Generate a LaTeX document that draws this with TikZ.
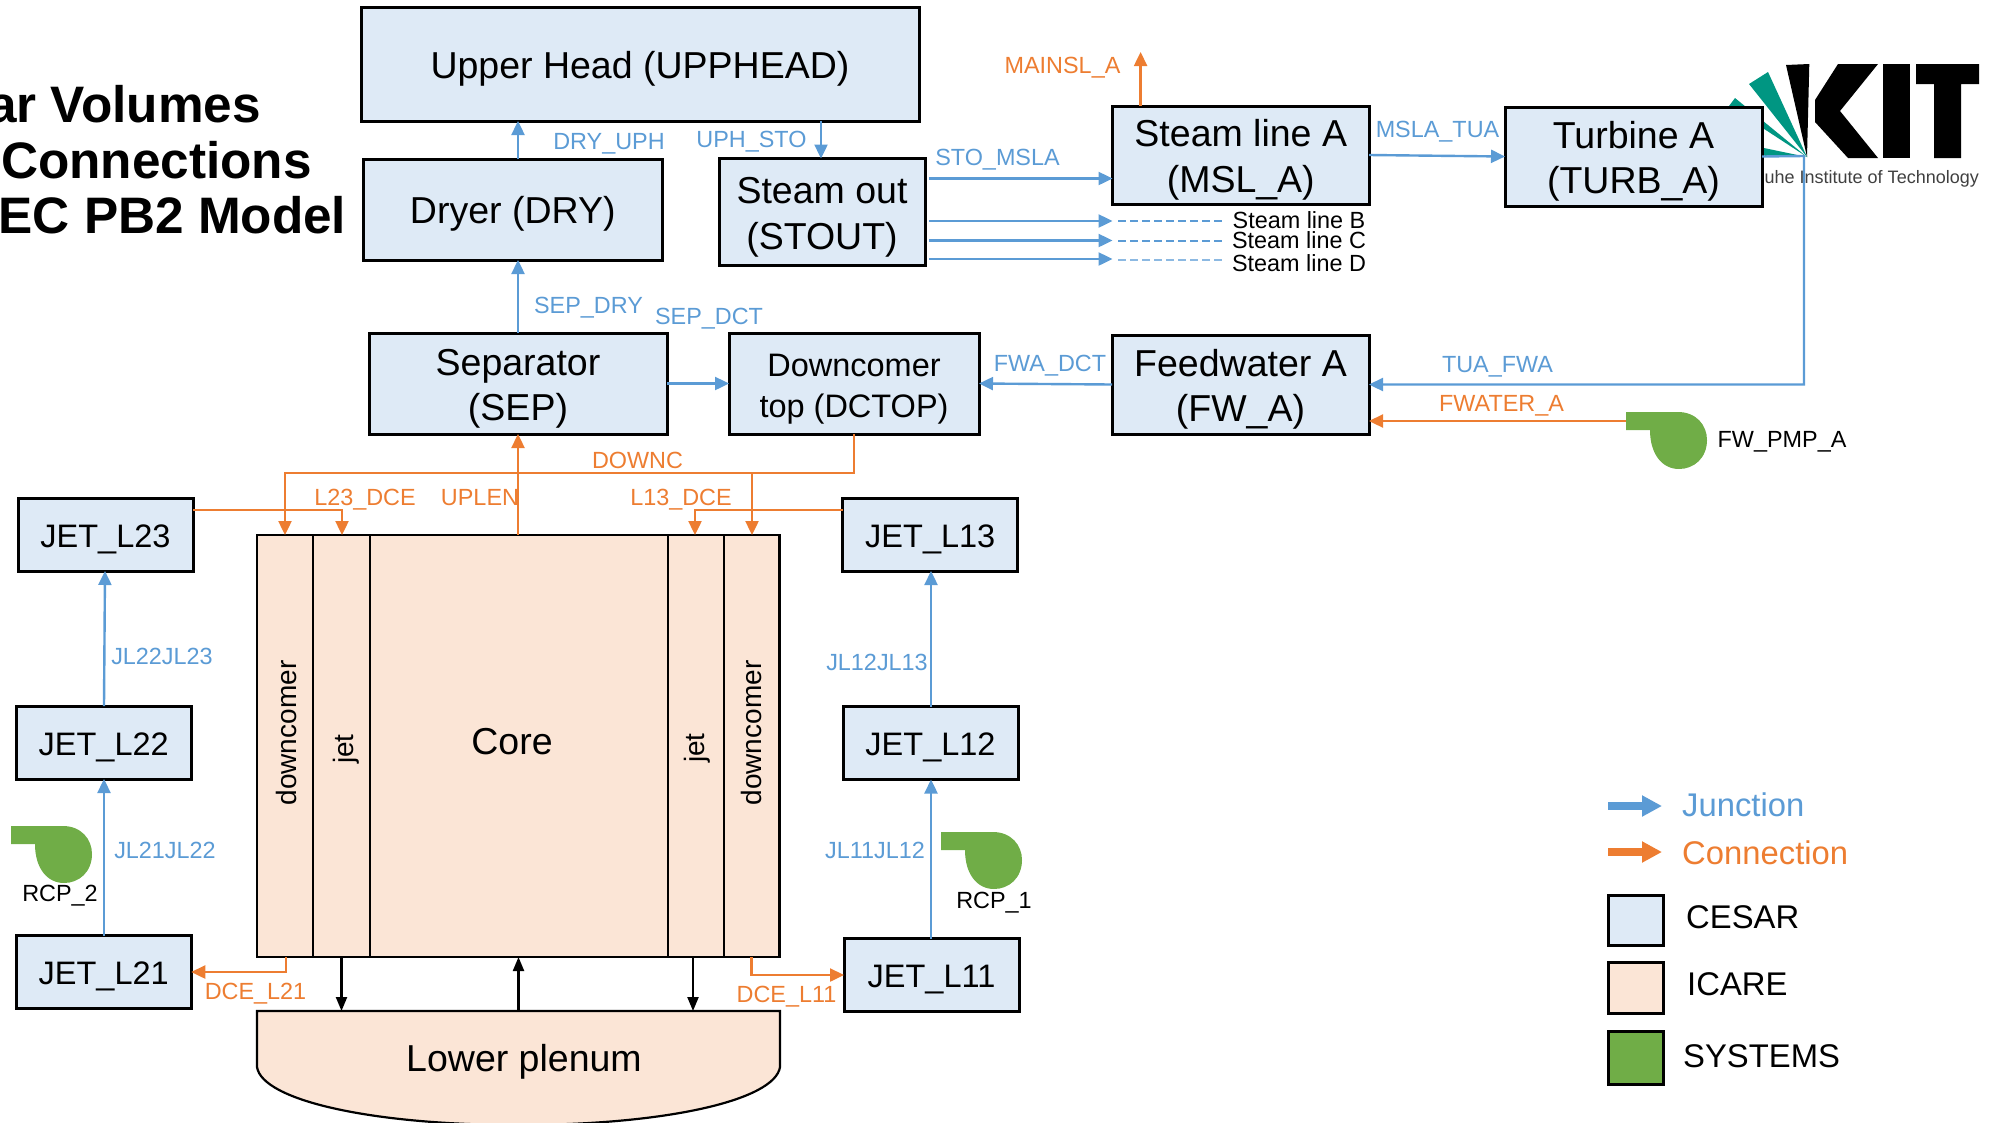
\documentclass[tikz,border=0pt]{standalone}
\usepackage{fontspec}
\setmainfont{Liberation Sans}
\usetikzlibrary{arrows.meta}
\definecolor{cesar}{HTML}{DEEAF6}
\definecolor{icare}{HTML}{FBE5D6}
\definecolor{sysg}{HTML}{70AD47}
\definecolor{jblue}{HTML}{5B9BD5}
\definecolor{corg}{HTML}{ED7D31}
\definecolor{kitg}{HTML}{009682}
\newcommand{\pumpshape}[2]{\fill[sysg,shift={(#1,#2)}] (0,0) -- (52,0) .. controls (70,0) and (81,13) .. (81,28) .. controls (81,46) and (68,57) .. (53,57) .. controls (36,57) and (24,42) .. (24,18) -- (0,18) -- cycle;}
\newcommand{\toprule}[1]{\rule{0pt}{#1pt}}
\tikzset{
  x=1pt,y=-1pt,
  cesarbox/.style={draw=black,line width=3pt,fill=cesar,inner sep=0pt,outer sep=0pt,align=center,font=\fontsize{37.5}{45.5}\selectfont,execute at begin node={\rule{0pt}{36pt}}},
  jetbox/.style={draw=black,line width=3pt,fill=cesar,inner sep=0pt,outer sep=0pt,align=center,minimum width=175pt,minimum height=73pt,font=\fontsize{32.5}{39}\selectfont,execute at begin node={\rule{0pt}{32pt}}},
  dcbox/.style={draw=black,line width=3pt,fill=cesar,inner sep=0pt,outer sep=0pt,align=center,font=\fontsize{32.5}{41}\selectfont},
  icarebox/.style={draw=black,line width=2.2pt,fill=icare,inner sep=0pt,outer sep=0pt},
  lab/.style={inner sep=0pt,font=\fontsize{23.4}{26}\selectfont,text height=16.5pt,text depth=0pt},
  blab/.style={lab,text=jblue},
  olab/.style={lab,text=corg},
  klab/.style={lab,text=black},
  jn/.style={draw=jblue,line width=2.4pt,-{Triangle[length=14pt,width=13pt]}},
  cn/.style={draw=corg,line width=2.4pt,-{Triangle[length=14pt,width=13pt]}},
  bk/.style={draw=black,line width=2.2pt,-{Triangle[length=14pt,width=11pt]}},
  side/.style={inner sep=0pt,font=\fontsize{28}{30}\selectfont,rotate=90},
  big/.style={inner sep=0pt,font=\fontsize{37.5}{44}\selectfont},
  leg/.style={inner sep=0pt,anchor=west,font=\fontsize{32.8}{36}\selectfont,text height=23pt,text depth=0pt},
  legsq/.style={draw=black,line width=3pt,inner sep=0pt,outer sep=0pt,minimum width=55pt},
  ttl/.style={inner sep=0pt,anchor=east,font=\fontsize{51.3}{56}\bfseries\selectfont,text height=37pt,text depth=0pt},
}
\begin{document}
\begin{tikzpicture}
\useasboundingbox (0,0) rectangle (2002,1122);
% title
\node[ttl] (t1) at (261,104) {ar Volumes};
\node[ttl] (t2) at (312,160) {Connections};
\node[ttl] (t3) at (346.5,215) {EC PB2 Model};
% logo
\fill[kitg] (1749,84) -- (1768,72) -- (1807,157) -- cycle;
\fill[kitg] (1729,106) -- (1735,98) -- (1807,157) -- cycle;
\fill[kitg] (1740,143) -- (1740,155) -- (1807,157) -- cycle;
\fill[black] (1786,65) -- (1809.3,64) -- (1807,157) -- cycle;
\fill[black] (1815,100) -- (1838,64) -- (1878,64) -- (1840,111) -- (1878,158) -- (1848,158) -- (1815,122) -- cycle;
\fill[black] (1883,64) rectangle (1910,158);
\fill[black] (1916,64) -- (1979,64) -- (1979,84) -- (1961,84) -- (1961,158) -- (1934,158) -- (1934,84) -- (1916,84) -- cycle;
\node[inner sep=0pt,anchor=east,text=black!75,font=\fontsize{18}{20}\selectfont] (kit) at (1979,179) {uhe Institute of Technology};
% cesar boxes
\node[cesarbox,minimum width=558pt,minimum height=114pt] (uph) at (640,64) {Upper Head (UPPHEAD)};
\node[cesarbox,minimum width=298.5pt,minimum height=101pt] (dry) at (512.75,209.5) {Dryer (DRY)};
\node[cesarbox,minimum width=206pt,minimum height=106.5pt] (sto) at (822,211.75) {\toprule{37}Steam out\\(STOUT)};
\node[cesarbox,minimum width=298pt,minimum height=101pt] (sep) at (518,383.5) {\toprule{37}Separator\\(SEP)};
\node[dcbox,minimum width=250pt,minimum height=101pt] (dct) at (854,383.5) {\toprule{34}Downcomer\\top (DCTOP)};
\node[cesarbox,minimum width=256.5pt,minimum height=98pt] (msl) at (1240.75,155) {\toprule{37}Steam line A\\(MSL\_A)};
\node[cesarbox,minimum width=257pt,minimum height=99pt] (tur) at (1633.5,156.5) {\toprule{37}Turbine A\\(TURB\_A)};
\node[cesarbox,minimum width=257pt,minimum height=99pt] (fw) at (1240.5,384.5) {\toprule{37}Feedwater A\\(FW\_A)};
\node[jetbox] (l23) at (105.5,534.5) {JET\_L23};
\node[jetbox] (l22) at (103.75,742.5) {JET\_L22};
\node[jetbox] (l21) at (103.75,972) {JET\_L21};
\node[jetbox] (l13) at (930.25,534.5) {JET\_L13};
\node[jetbox] (l12) at (930.5,743) {JET\_L12};
\node[jetbox] (l11) at (931.5,975) {JET\_L11};
% core
\node[icarebox,minimum width=56pt,minimum height=422pt] (dcl) at (285,746) {};
\node[icarebox,minimum width=57pt,minimum height=422pt] (jtl) at (341.5,746) {};
\node[icarebox,minimum width=298pt,minimum height=422pt] (core) at (519,746) {};
\node[icarebox,minimum width=56pt,minimum height=422pt] (jtr) at (696,746) {};
\node[icarebox,minimum width=55.5pt,minimum height=422pt] (dcr) at (751.75,746) {};
\node[side] (dcltx) at (286,733) {downcomer};
\node[side] (jltx) at (346,749) {jet};
\node[side] (jrtx) at (697.6,748) {jet};
\node[side] (dcrtx) at (751.5,733) {downcomer};
\node[big] (coretx) at (512,742) {Core};
% lower plenum
\draw[line width=2.2pt,fill=icare] (257,1011) -- (780,1011) -- (780,1067) .. controls (775,1100) and (667,1125) .. (518.5,1125) .. controls (370,1125) and (262,1100) .. (257,1067) -- cycle;
\coordinate (lp) at (518.5,1011);
\node[big] (lptx) at (524,1062) {Lower plenum};
% pumps
\pumpshape{1626}{412}
\pumpshape{11}{826}
\pumpshape{941}{832}
\coordinate (fwp) at (1626,421);
% junctions
\draw[jn] (dry.north -| sep.north) -- (uph.south -| sep.north);
\coordinate (upo) at (821,121);
\draw[jn] (upo) -- (upo |- sto.north);
\draw[jn] (sep.north) -- (sep.north |- dry.south);
\draw[jn] (sep.east) -- (dct.west);
\draw[jn] (fw.west) -- (dct.east);
\coordinate (sa) at (929,178.5);
\coordinate (sb) at (929,221);
\coordinate (sc) at (929,240.5);
\coordinate (sd) at (929,259);
\draw[jn] (sa) -- (sa -| msl.west);
\draw[jn] (sb) -- (sb -| msl.west);
\draw[jn] (sc) -- (sc -| msl.west);
\draw[jn] (sd) -- (sd -| msl.west);
\draw[jn] (msl.east) -- (tur.west);
\coordinate (tc) at (1804,156);
\draw[jn] (tur.east) -- (tc) -- (tc |- fw.east) -- (fw.east);
\coordinate (j21) at (104,936);
\draw[jn] (j21) -- (j21 |- l22.south);
\coordinate (j22) at (104,706);
\draw[jn] (j22) -- (105,571);
\coordinate (j11) at (931,939);
\draw[jn] (j11) -- (j11 |- l12.south);
\coordinate (j12) at (931,707);
\draw[jn] (j12) -- (j12 |- l13.south);
% dashed
\coordinate (db) at (1118,221);\coordinate (dbe) at (1225,221);
\coordinate (dc) at (1118,241);\coordinate (dce) at (1225,241);
\coordinate (dd) at (1118,260);\coordinate (dde) at (1225,260);
\draw[jblue,line width=1.4pt,dash pattern=on 8pt off 4pt] (db) -- (dbe);
\draw[jblue,line width=1.4pt,dash pattern=on 8pt off 4pt] (dc) -- (dce);
\draw[jblue!70,line width=1.4pt,dash pattern=on 8pt off 4pt] (dd) -- (dde);
% connections
\coordinate (msu) at (1140.6,52);
\draw[cn] (msl.north -| msu) -- (msu);
\draw[cn] (fwp) -- (fwp -| fw.east);
\draw[cn] (sep.south |- core.north) -- (sep.south);
\coordinate (dn1) at (854,473);
\coordinate (dn2) at (285,473);
\coordinate (dn3) at (752,473);
\draw[cn] (dct.south) -- (dn1) -- (dn2) -- (dn2 |- core.north);
\draw[cn] (dn3) -- (dn3 |- core.north);
\coordinate (e23) at (193,510);
\coordinate (k23) at (342,510);
\draw[cn] (e23) -- (k23) -- (k23 |- core.north);
\coordinate (e13) at (842.5,510);
\coordinate (k13) at (695,510);
\draw[cn] (e13) -- (k13) -- (k13 |- core.north);
\coordinate (d21) at (286,972);
\draw[cn] (d21 |- core.south) -- (d21) -- (l21.east);
\coordinate (d11) at (751.5,975);
\draw[cn] (d11 |- core.south) -- (d11) -- (l11.west);
% black
\coordinate (jb) at (693,1011);
\draw[bk] (jtl.south) -- (jtl.south |- lp);
\draw[bk] (lp) -- (lp |- core.south);
\draw[bk] (jb |- core.south) -- (jb);
% labels
\node[blab] (n1) at (609,141) {DRY\_UPH};
\node[blab] (n2) at (751.5,139) {UPH\_STO};
\node[blab] (n3) at (997.5,157) {STO\_MSLA};
\node[blab] (n4) at (1437.5,129) {MSLA\_TUA};
\node[olab] (n5) at (1062.5,65) {MAINSL\_A};
\node[blab] (n6) at (588.5,305) {SEP\_DRY};
\node[blab] (n7) at (709,316) {SEP\_DCT};
\node[blab] (n8) at (1050,363) {FWA\_DCT};
\node[blab] (n9) at (1497.5,364) {TUA\_FWA};
\node[olab] (n10) at (1501.5,403) {FWATER\_A};
\node[olab] (n11) at (637.5,460) {DOWNC};
\node[olab] (n12) at (365,497) {L23\_DCE};
\node[olab] (n13) at (480,497) {UPLEN};
\node[olab] (n14) at (681,497) {L13\_DCE};
\node[blab] (n15) at (162,656) {JL22JL23};
\node[blab] (n16) at (165,850) {JL21JL22};
\node[blab] (n17) at (877,662) {JL12JL13};
\node[blab] (n18) at (875,850) {JL11JL12};
\node[olab] (n19) at (255.5,991) {DCE\_L21};
\node[olab] (n20) at (786.5,994) {DCE\_L11};
\node[klab] (n21) at (1299,220) {Steam line B};
\node[klab] (n22) at (1299,240) {Steam line C};
\node[klab] (n23) at (1299,263) {Steam line D};
\node[klab] (n24) at (1782,439) {FW\_PMP\_A};
\node[klab] (n25) at (60,893) {RCP\_2};
\node[klab] (n26) at (994,900) {RCP\_1};
% legend
\coordinate (lj) at (1608,806);
\coordinate (lo) at (1608,852);
\draw[draw=jblue,line width=8pt,-{Triangle[length=20pt,width=20pt]}] (lj) -- ++(54,0);
\draw[draw=corg,line width=8pt,-{Triangle[length=20pt,width=20pt]}] (lo) -- ++(54,0);
\node[leg,text=jblue] (lg1) at (1682,805) {Junction};
\node[leg,text=corg] (lg2) at (1682,853) {Connection};
\node[legsq,fill=cesar,minimum height=50pt] (sq1) at (1635.5,920) {};
\node[legsq,fill=icare,minimum height=51pt] (sq2) at (1635.5,987.5) {};
\node[legsq,fill=sysg,minimum height=53pt] (sq3) at (1635.5,1057.5) {};
\node[leg] (lg3) at (1686,917) {CESAR};
\node[leg] (lg4) at (1687,984) {ICARE};
\node[leg] (lg5) at (1683,1056) {SYSTEMS};
\end{tikzpicture}
\end{document}
